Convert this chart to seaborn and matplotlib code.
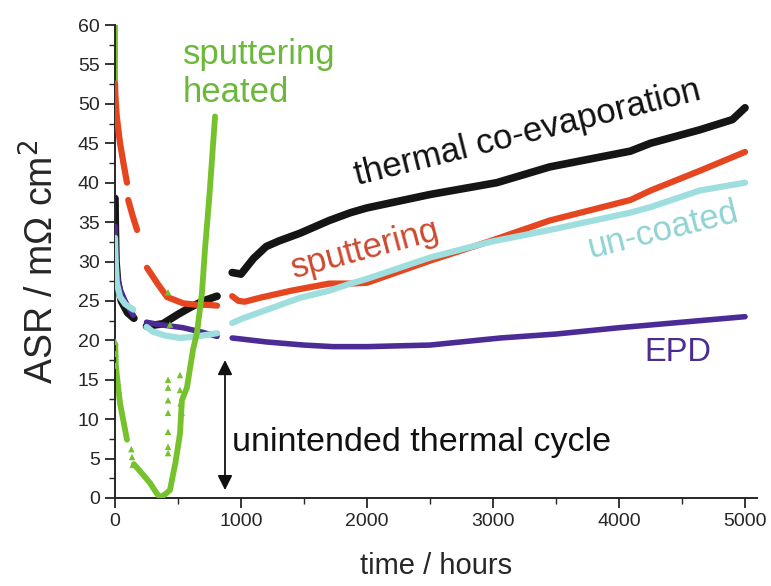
import numpy as np
import pandas as pd
import matplotlib
matplotlib.use("Agg")
import matplotlib.pyplot as plt
from matplotlib.ticker import MultipleLocator
import seaborn as sns

# ---------------- data ----------------
# each series is split into segments (gaps in the measurement)
black_t = [[0, 3, 8, 20, 50, 100, 150],
           [250, 380, 500, 600, 700, 810],
           [930, 1000, 1100, 1200, 1300, 1470, 1700, 1870, 2000, 2500, 3030, 3450, 4090, 4250, 4640, 4900, 5000]]
black_v = [[38, 34, 30, 27.5, 25, 23.5, 22.8],
           [21.8, 22.1, 23.3, 24.2, 25.0, 25.6],
           [28.6, 28.4, 30.4, 31.9, 32.6, 33.6, 35.2, 36.2, 36.8, 38.5, 40.0, 42.0, 44.0, 45.0, 46.7, 48.0, 49.5]]

red_t = [[0, 3, 14, 40, 70, 95],
         [105, 140, 175],
         [254, 300, 333, 413, 540, 650, 740, 810],
         [930, 980, 1030, 1150, 1400, 1700, 1870, 2000, 2500, 2980, 3450, 4090, 4250, 4640, 5000]]
red_v = [[52.6, 51, 48.4, 45, 42.2, 40.0],
         [37.8, 35.8, 34.0],
         [29.2, 28.1, 27.3, 25.5, 24.7, 24.5, 24.5, 24.4],
         [25.6, 25.0, 24.9, 25.4, 26.3, 27.2, 27.2, 27.3, 30.1, 32.6, 35.2, 37.8, 39.0, 41.5, 43.9]]

cyan_t = [[0, 3, 8, 14, 40, 80, 145],
          [250, 300, 400, 516, 650, 810],
          [930, 1000, 1470, 1700, 1870, 2000, 2500, 2980, 3450, 4090, 4250, 4640, 5000]]
cyan_v = [[33, 31, 29, 27.3, 25.5, 24.6, 23.9],
          [21.7, 21.1, 20.6, 20.3, 20.5, 20.9],
          [22.2, 22.7, 25.4, 26.3, 27.2, 27.8, 30.5, 32.5, 34.0, 36.2, 36.9, 39.0, 40.0]]

purple_t = [[0, 3, 10, 25, 45, 80, 120, 145],
            [250, 350, 540, 700, 810],
            [930, 1200, 1500, 1730, 2000, 2500, 3060, 3500, 4000, 4500, 5000]]
purple_v = [[34.5, 32, 29.5, 27.5, 26.3, 25, 23.8, 23.2],
            [22.3, 22.0, 21.6, 21.0, 20.5],
            [20.3, 19.8, 19.4, 19.2, 19.2, 19.4, 20.3, 20.8, 21.6, 22.3, 23.0]]

green_t = [[0, 0.5],
           [2, 6, 15, 40, 70, 95],
           [150, 220, 278, 330, 360, 400, 436, 480, 516, 531, 571, 619, 651, 690, 714, 750, 794]]
green_v = [[60, 52],
           [19.5, 17, 15.5, 12, 9.5, 7.4],
           [4.3, 3.0, 1.9, 0.6, 0.1, 0.5, 1.0, 4.5, 8.2, 12.4, 14.0, 18.8, 21.0, 26.0, 31.5, 38.5, 48.4]]

green_pts_t = [3, 3, 3, 130, 135, 140, 421, 421, 421, 421, 421, 421, 421, 421, 436, 516, 516, 520, 530]
green_pts_v = [19.8, 18.3, 16.8, 6.2, 5.2, 4.2, 26.1, 15.0, 14.0, 12.4, 10.8, 8.4, 6.5, 5.7, 22.0, 15.6, 13.7, 12.0, 10.8]

xticks = [0, 1000, 2000, 3000, 4000, 5000]
yticks = [0, 5, 10, 15, 20, 25, 30, 35, 40, 45, 50, 55, 60]

# ---------------- helpers ----------------
def to_df(ts, vs):
    rows = []
    for i, (t, v) in enumerate(zip(ts, vs)):
        for a, b in zip(t, v):
            rows.append((a, b, i))
    return pd.DataFrame(rows, columns=["t", "v", "seg"])

sns.set_style("ticks")
plt.rcParams["font.family"] = ["Liberation Sans", "DejaVu Sans"]

fig = plt.figure(figsize=(7.71, 5.86), dpi=100)
ax = fig.add_axes([115 / 771, 1 - 498 / 586, (757 - 115) / 771, (498 - 25) / 586])

C_BLACK = "#151515"
C_RED = "#e5461f"
C_CYAN = "#9fdede"
C_PURPLE = "#4b2c97"
C_GREEN = "#75c22d"

def draw(df, color, lw, z):
    sns.lineplot(data=df, x="t", y="v", units="seg", estimator=None, sort=False,
                 color=color, lw=lw, ax=ax, zorder=z, legend=False)

dg = to_df(green_t, green_v)
draw(dg[dg.seg < 2], C_GREEN, 4.2, 1)
draw(to_df(black_t, black_v), C_BLACK, 5.5, 2)
draw(to_df(red_t, red_v), C_RED, 4.5, 3)
draw(to_df(cyan_t, cyan_v), C_CYAN, 4.5, 4)
draw(to_df(purple_t, purple_v), C_PURPLE, 4.0, 3.5)
draw(dg[dg.seg == 2], C_GREEN, 4.2, 6)
sns.scatterplot(x=green_pts_t, y=green_pts_v, marker="^", color=C_GREEN, s=22,
                edgecolor="none", ax=ax, zorder=6, legend=False)

ax.set_xlim(0, 5095)
ax.set_ylim(0, 60)
ax.set_xticks(xticks)
ax.set_yticks(yticks)
ax.xaxis.set_minor_locator(MultipleLocator(500))
ax.yaxis.set_minor_locator(MultipleLocator(2.5))
ax.tick_params(which="major", direction="out", length=7, width=1.3, labelsize=14, pad=4)
ax.tick_params(which="minor", direction="out", length=4, width=1.0)
sns.despine(ax=ax)
for s in ["left", "bottom"]:
    ax.spines[s].set_linewidth(1.4)
ax.set_xlabel("time / hours", fontsize=21, labelpad=16)
ax.set_ylabel("ASR / m\u03a9 cm$^2$", fontsize=27, labelpad=12)

# annotations
ax.text(3270, 46.3, "thermal co-evaporation", rotation=14, fontsize=25, color="#111111",
        ha="center", va="center", rotation_mode="anchor")
ax.text(1984, 31.5, "sputtering", rotation=15, fontsize=25, color="#cc4a30",
        ha="center", va="center", rotation_mode="anchor")
ax.text(4349, 34.0, "un-coated", rotation=14, fontsize=25, color="#8fd3d2",
        ha="center", va="center", rotation_mode="anchor")
ax.text(4468, 18.4, "EPD", fontsize=23.5, color="#4b2c92", ha="center", va="center")
ax.text(540, 56.2, "sputtering", fontsize=25, color="#6cb83a", ha="left", va="center")
ax.text(540, 51.5, "heated", fontsize=25, color="#6cb83a", ha="left", va="center")
ax.text(929, 7.0, "unintended thermal cycle", fontsize=24.5,
        color="#111111", ha="left", va="center")
ax.annotate("", xy=(873, 1.0), xytext=(873, 17.5),
            arrowprops=dict(arrowstyle="<|-|>", mutation_scale=22, lw=1.3, color="#111111",
                            shrinkA=0, shrinkB=0))

fig.savefig("out.png", dpi=100)
